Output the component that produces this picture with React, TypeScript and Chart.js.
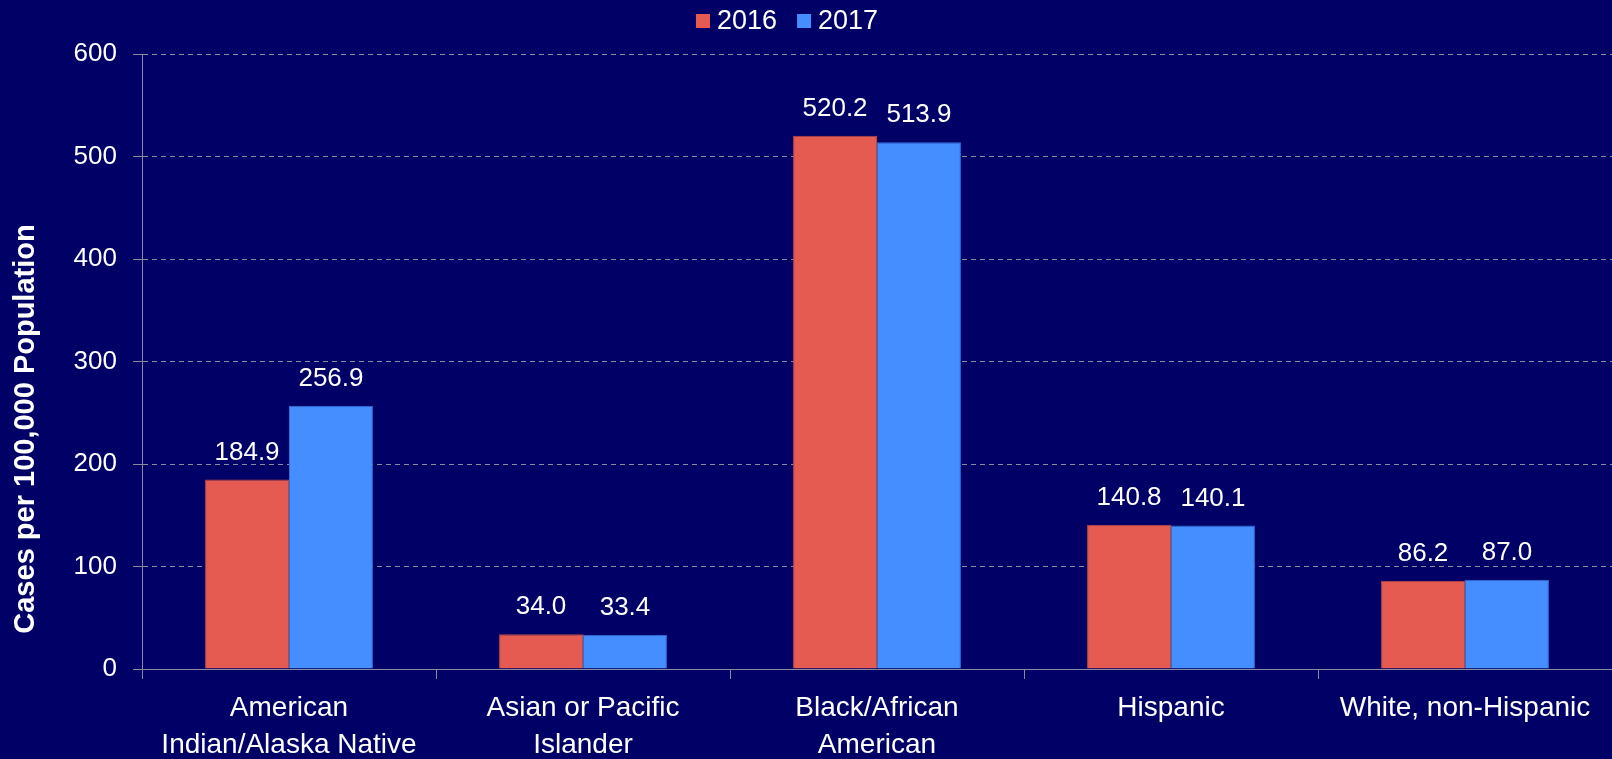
import React, { useEffect, useRef } from "react";
import { Chart, registerables } from "chart.js";

Chart.register(...registerables);

const categories: string[][] = [
  ["American", "Indian/Alaska Native"],
  ["Asian or Pacific", "Islander"],
  ["Black/African", "American"],
  ["Hispanic"],
  ["White, non-Hispanic"],
];
const seriesNames = ["2016", "2017"];
const values2016 = [184.9, 34.0, 520.2, 140.8, 86.2];
const values2017 = [256.9, 33.4, 513.9, 140.1, 87.0];
const yTicks = [0, 100, 200, 300, 400, 500, 600];
const yTitle = "Cases per 100,000 Population";

const BG = "#000066";
const RED = "#E55B51";
const BLUE = "#448EFF";
const GRID = "#8A8A9E";
const FONT = "'Liberation Sans', Arial, sans-serif";

export default function App() {
  const ref = useRef<HTMLCanvasElement | null>(null);

  useEffect(() => {
    document.body.style.margin = "0";
    document.body.style.background = BG;
    const canvas = ref.current;
    if (!canvas) return;

    const bgPlugin = {
      id: "bg",
      beforeDraw(chart: any) {
        const { ctx, width, height } = chart;
        ctx.save();
        ctx.fillStyle = BG;
        ctx.fillRect(0, 0, width, height);
        ctx.restore();
      },
    };

    const labelPlugin = {
      id: "valueLabels",
      afterDatasetsDraw(chart: any) {
        const { ctx } = chart;
        ctx.save();
        ctx.fillStyle = "#FFFFFF";
        ctx.font = `26px ${FONT}`;
        ctx.textAlign = "center";
        ctx.textBaseline = "middle";
        chart.data.datasets.forEach((ds: any, di: number) => {
          const meta = chart.getDatasetMeta(di);
          meta.data.forEach((bar: any, i: number) => {
            const v = ds.data[i] as number;
            ctx.fillText(v.toFixed(1), bar.x, bar.y - 27);
          });
        });
        ctx.restore();
      },
    };

    const titlePlugin = {
      id: "yTitle",
      afterDraw(chart: any) {
        const { ctx } = chart;
        ctx.save();
        ctx.translate(26, 429);
        ctx.rotate(-Math.PI / 2);
        ctx.fillStyle = "#FFFFFF";
        ctx.font = `bold 29px ${FONT}`;
        ctx.textAlign = "center";
        ctx.textBaseline = "middle";
        ctx.fillText(yTitle, 0, 0);
        ctx.restore();
      },
    };

    const legendPlugin = {
      id: "customLegend",
      afterDraw(chart: any) {
        const { ctx } = chart;
        ctx.save();
        ctx.font = `27px ${FONT}`;
        ctx.textBaseline = "middle";
        ctx.textAlign = "left";
        const box = 14;
        const gapBoxText = 7;
        const gapItems = 20;
        let x = 696;
        const cy = 21;
        chart.data.datasets.forEach((ds: any, idx: number) => {
          if (idx > 0) x += gapItems;
          ctx.fillStyle = ds.backgroundColor;
          ctx.fillRect(x, cy - box / 2, box, box);
          x += box + gapBoxText;
          ctx.fillStyle = "#FFFFFF";
          ctx.fillText(ds.label, x, cy + 1);
          x += ctx.measureText(ds.label).width;
        });
        ctx.restore();
      },
    };

    const chart = new Chart(canvas, {
      type: "bar",
      data: {
        labels: categories,
        datasets: [
          {
            label: seriesNames[0],
            data: values2016,
            backgroundColor: RED,
            borderColor: "#B8473F",
            borderWidth: 1,
            categoryPercentage: 0.571,
            barPercentage: 1.0,
          },
          {
            label: seriesNames[1],
            data: values2017,
            backgroundColor: BLUE,
            borderColor: "#2F6FD6",
            borderWidth: 1,
            categoryPercentage: 0.571,
            barPercentage: 1.0,
          },
        ],
      },
      options: {
        responsive: false,
        animation: false,
        maintainAspectRatio: false,
        layout: { padding: { top: 54, right: 0, left: 0, bottom: 0 } },
        plugins: {
          legend: { display: false },
          tooltip: { enabled: false },
        },
        scales: {
          x: {
            grid: {
              display: true,
              drawOnChartArea: false,
              drawTicks: true,
              tickLength: 10,
              color: GRID,
              offset: true,
            },
            border: { display: true, color: GRID, width: 1 },
            ticks: {
              color: "#FFFFFF",
              font: { family: FONT, size: 28, lineHeight: 1.32 },
              padding: 11,
              maxRotation: 0,
              autoSkip: false,
            },
            afterFit(scale: any) {
              scale.height = 90;
            },
          },
          y: {
            min: 0,
            max: 600,
            afterBuildTicks(scale: any) {
              scale.ticks = yTicks.map((v) => ({ value: v }));
            },
            grid: {
              color: GRID,
              tickLength: 9,
              drawTicks: true,
            } as any,
            border: { display: true, color: GRID, width: 1, dash: [5, 4] } as any,
            ticks: {
              color: "#FFFFFF",
              font: { family: FONT, size: 26 },
              padding: 16,
            },
            afterFit(scale: any) {
              scale.width = 142;
            },
          },
        },
      },
      plugins: [bgPlugin, labelPlugin, titlePlugin, legendPlugin],
    });

    return () => chart.destroy();
  }, []);

  return (
    <div style={{ width: 1612, height: 759, background: BG }}>
      <canvas ref={ref} width={1612} height={759} style={{ display: "block" }} />
    </div>
  );
}
